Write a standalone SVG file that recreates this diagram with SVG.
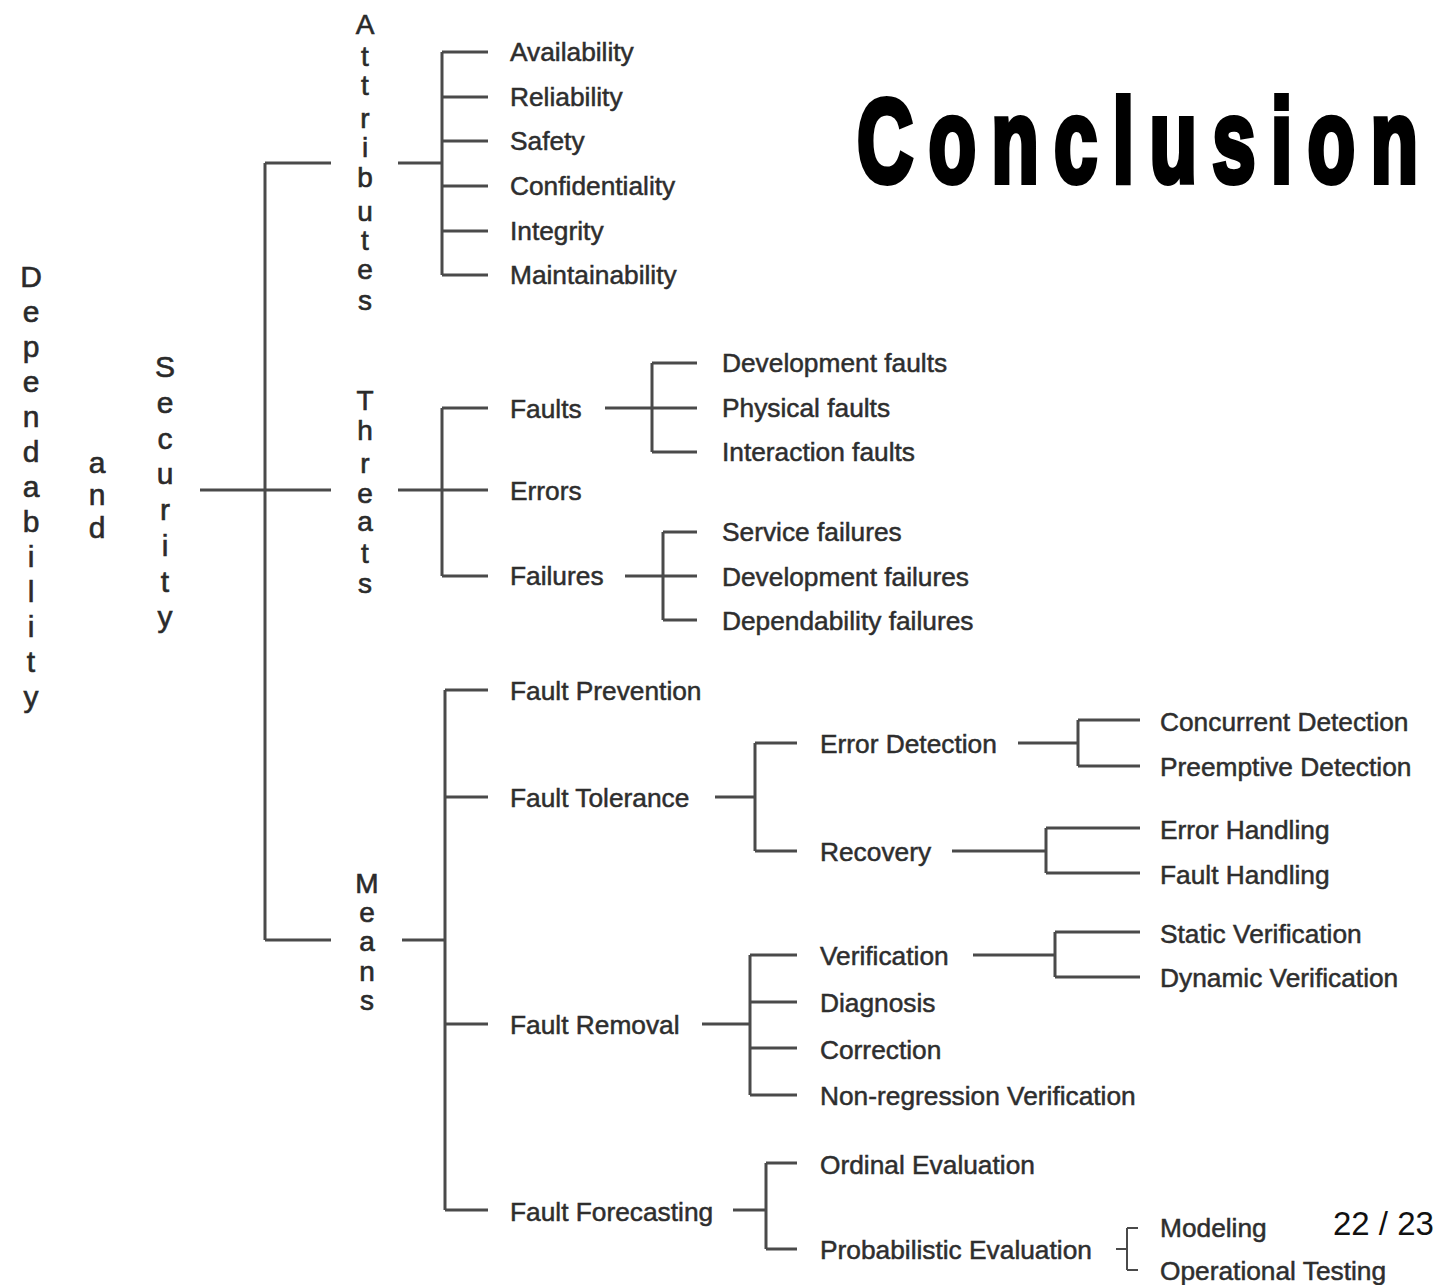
<svg xmlns="http://www.w3.org/2000/svg" width="1448" height="1285" viewBox="0 0 1448 1285">
<style>
.ln{stroke:#4a4a4a;stroke-width:3;fill:none;stroke-linecap:butt}
.lb{font-family:"Liberation Sans",Arial,sans-serif;font-size:26.3px;fill:#2e2e2e;stroke:#2e2e2e;stroke-width:0.5}
.vt{font-family:"Liberation Sans",Arial,sans-serif;font-size:30px;fill:#2a2a2a;stroke:#2a2a2a;stroke-width:0.6;text-anchor:middle}
.vs{font-family:"Liberation Sans",Arial,sans-serif;font-size:28px;fill:#2a2a2a;stroke:#2a2a2a;stroke-width:0.6;text-anchor:middle}
</style>
<rect width="1448" height="1285" fill="#ffffff"/>

<g id="title">
<text transform="translate(857,182) scale(0.66,1)" x="0" y="0" textLength="850" lengthAdjust="spacing" style="font-family:'Liberation Sans',Arial,sans-serif;font-weight:bold;font-size:118px;fill:#000;stroke:#000;stroke-width:6;stroke-linejoin:miter">Conclusion</text>
</g>

<g id="pagenum">
<text x="1333" y="1235" style="font-family:'Liberation Sans',Arial,sans-serif;font-size:33px;fill:#111">22 / 23</text>
</g>

<g id="connectors">
<!-- root -->
<path class="ln" d="M200 490H265M265 163V940M265 163H331M265 490H331M265 940H331"/>
<!-- attributes -->
<path class="ln" d="M398 163H442M442 52V275M442 52H488M442 97H488M442 141H488M442 186H488M442 231H488M442 275H488"/>
<!-- threats -->
<path class="ln" d="M398 490H442M442 408V576M442 408H488M442 490H488M442 576H488"/>
<path class="ln" d="M605 408H697M652 363V452M652 363H697M652 452H697"/>
<path class="ln" d="M625 576H697M663 532V620M663 532H697M663 620H697"/>
<!-- means -->
<path class="ln" d="M402 940H445M445 690V1210M445 690H488M445 797H488M445 1024H488M445 1210H488"/>
<path class="ln" d="M715 797H755M755 743V851M755 743H797M755 851H797"/>
<path class="ln" d="M1018 743H1078M1078 720V766M1078 720H1140M1078 766H1140"/>
<path class="ln" d="M952 851H1046M1046 828V873M1046 828H1140M1046 873H1140"/>
<path class="ln" d="M702 1024H750M750 955V1095M750 955H797M750 1002H797M750 1048H797M750 1095H797"/>
<path class="ln" d="M973 955H1055M1055 932V977M1055 932H1140M1055 977H1140"/>
<path class="ln" d="M733 1210H766M766 1163V1249M766 1163H797M766 1249H797"/>
<path class="ln" d="M1116 1249H1127M1127 1228V1270M1127 1228H1138M1127 1270H1138" style="stroke-width:2"/>
</g>

<g id="n-dependability">
<text class="vt"><tspan x="31" y="287">D</tspan><tspan x="31" y="322">e</tspan><tspan x="31" y="357">p</tspan><tspan x="31" y="392">e</tspan><tspan x="31" y="427">n</tspan><tspan x="31" y="462">d</tspan><tspan x="31" y="497">a</tspan><tspan x="31" y="532">b</tspan><tspan x="31" y="567">i</tspan><tspan x="31" y="602">l</tspan><tspan x="31" y="637">i</tspan><tspan x="31" y="672">t</tspan><tspan x="31" y="707">y</tspan></text>
</g>
<g id="n-and">
<text class="vt"><tspan x="97" y="473">a</tspan><tspan x="97" y="505">n</tspan><tspan x="97" y="538">d</tspan></text>
</g>
<g id="n-security">
<text class="vt"><tspan x="165" y="377">S</tspan><tspan x="165" y="413">e</tspan><tspan x="165" y="449">c</tspan><tspan x="165" y="484">u</tspan><tspan x="165" y="520">r</tspan><tspan x="165" y="556">i</tspan><tspan x="165" y="592">t</tspan><tspan x="165" y="627">y</tspan></text>
</g>
<g id="n-attributes">
<text class="vs"><tspan x="365" y="34">A</tspan><tspan x="365" y="66">t</tspan><tspan x="365" y="95">t</tspan><tspan x="365" y="128">r</tspan><tspan x="365" y="157">i</tspan><tspan x="365" y="187">b</tspan><tspan x="365" y="221">u</tspan><tspan x="365" y="250">t</tspan><tspan x="365" y="279">e</tspan><tspan x="365" y="310">s</tspan></text>
</g>
<g id="n-threats">
<text class="vs"><tspan x="365" y="410">T</tspan><tspan x="365" y="440">h</tspan><tspan x="365" y="473">r</tspan><tspan x="365" y="503">e</tspan><tspan x="365" y="531">a</tspan><tspan x="365" y="563">t</tspan><tspan x="365" y="593">s</tspan></text>
</g>
<g id="n-means">
<text class="vs"><tspan x="367" y="893">M</tspan><tspan x="367" y="922">e</tspan><tspan x="367" y="951">a</tspan><tspan x="367" y="981">n</tspan><tspan x="367" y="1010">s</tspan></text>
</g>

<g id="n-attr-items">
<text class="lb" x="510" y="61">Availability</text>
<text class="lb" x="510" y="106">Reliability</text>
<text class="lb" x="510" y="150">Safety</text>
<text class="lb" x="510" y="195">Confidentiality</text>
<text class="lb" x="510" y="240">Integrity</text>
<text class="lb" x="510" y="284">Maintainability</text>
</g>

<g id="n-faults"><text class="lb" x="510" y="418">Faults</text></g>
<g id="n-errors"><text class="lb" x="510" y="500">Errors</text></g>
<g id="n-failures"><text class="lb" x="510" y="585">Failures</text></g>
<g id="n-fault-types">
<text class="lb" x="722" y="372">Development faults</text>
<text class="lb" x="722" y="417">Physical faults</text>
<text class="lb" x="722" y="461">Interaction faults</text>
</g>
<g id="n-failure-types">
<text class="lb" x="722" y="541">Service failures</text>
<text class="lb" x="722" y="586">Development failures</text>
<text class="lb" x="722" y="630">Dependability failures</text>
</g>

<g id="n-fault-prevention"><text class="lb" x="510" y="700">Fault Prevention</text></g>
<g id="n-fault-tolerance"><text class="lb" x="510" y="807">Fault Tolerance</text></g>
<g id="n-error-detection"><text class="lb" x="820" y="753">Error Detection</text></g>
<g id="n-detection-types">
<text class="lb" x="1160" y="731">Concurrent Detection</text>
<text class="lb" x="1160" y="776">Preemptive Detection</text>
</g>
<g id="n-recovery"><text class="lb" x="820" y="861">Recovery</text></g>
<g id="n-handling">
<text class="lb" x="1160" y="839">Error Handling</text>
<text class="lb" x="1160" y="884">Fault Handling</text>
</g>
<g id="n-fault-removal"><text class="lb" x="510" y="1034">Fault Removal</text></g>
<g id="n-verification"><text class="lb" x="820" y="965">Verification</text></g>
<g id="n-verification-types">
<text class="lb" x="1160" y="943">Static Verification</text>
<text class="lb" x="1160" y="987">Dynamic Verification</text>
</g>
<g id="n-removal-steps">
<text class="lb" x="820" y="1012">Diagnosis</text>
<text class="lb" x="820" y="1059">Correction</text>
<text class="lb" x="820" y="1105">Non-regression Verification</text>
</g>
<g id="n-fault-forecasting"><text class="lb" x="510" y="1221">Fault Forecasting</text></g>
<g id="n-ordinal"><text class="lb" x="820" y="1174">Ordinal Evaluation</text></g>
<g id="n-probabilistic"><text class="lb" x="820" y="1259">Probabilistic Evaluation</text></g>
<g id="n-prob-types">
<text class="lb" x="1160" y="1237">Modeling</text>
<text class="lb" x="1160" y="1280">Operational Testing</text>
</g>
</svg>
